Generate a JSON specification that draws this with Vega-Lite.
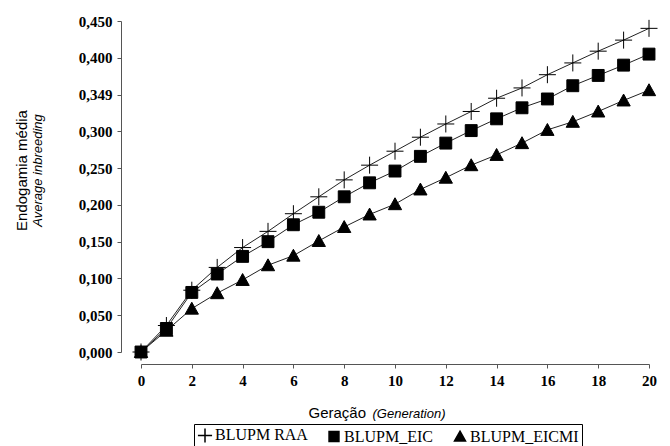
{
  "$schema": "https://vega.github.io/schema/vega-lite/v6.json",
  "width": 508,
  "height": 331,
  "autosize": {"type": "none"},
  "padding": {"left": 141, "top": 21, "right": 21, "bottom": 94},
  "background": "white",
  "title": {
    "text": "Endogamia média",
    "subtitle": "Average inbreeding",
    "orient": "left",
    "anchor": "middle",
    "dx": 16,
    "font": "Liberation Sans",
    "fontSize": 15,
    "fontWeight": "normal",
    "color": "black",
    "subtitleFont": "Liberation Sans",
    "subtitleFontSize": 13,
    "subtitleFontStyle": "italic",
    "subtitleColor": "black",
    "subtitlePadding": 2,
    "offset": 33
  },
  "data": {
    "values": [
      {"gen": 0, "series": "BLUPM RAA", "F": 0.0},
      {"gen": 1, "series": "BLUPM RAA", "F": 0.036},
      {"gen": 2, "series": "BLUPM RAA", "F": 0.084},
      {"gen": 3, "series": "BLUPM RAA", "F": 0.115},
      {"gen": 4, "series": "BLUPM RAA", "F": 0.142},
      {"gen": 5, "series": "BLUPM RAA", "F": 0.164},
      {"gen": 6, "series": "BLUPM RAA", "F": 0.188},
      {"gen": 7, "series": "BLUPM RAA", "F": 0.211},
      {"gen": 8, "series": "BLUPM RAA", "F": 0.234},
      {"gen": 9, "series": "BLUPM RAA", "F": 0.254},
      {"gen": 10, "series": "BLUPM RAA", "F": 0.273},
      {"gen": 11, "series": "BLUPM RAA", "F": 0.292},
      {"gen": 12, "series": "BLUPM RAA", "F": 0.310},
      {"gen": 13, "series": "BLUPM RAA", "F": 0.327},
      {"gen": 14, "series": "BLUPM RAA", "F": 0.345},
      {"gen": 15, "series": "BLUPM RAA", "F": 0.359},
      {"gen": 16, "series": "BLUPM RAA", "F": 0.377},
      {"gen": 17, "series": "BLUPM RAA", "F": 0.393},
      {"gen": 18, "series": "BLUPM RAA", "F": 0.409},
      {"gen": 19, "series": "BLUPM RAA", "F": 0.424},
      {"gen": 20, "series": "BLUPM RAA", "F": 0.440},
      {"gen": 0, "series": "BLUPM_EIC", "F": 0.0},
      {"gen": 1, "series": "BLUPM_EIC", "F": 0.032},
      {"gen": 2, "series": "BLUPM_EIC", "F": 0.081},
      {"gen": 3, "series": "BLUPM_EIC", "F": 0.106},
      {"gen": 4, "series": "BLUPM_EIC", "F": 0.130},
      {"gen": 5, "series": "BLUPM_EIC", "F": 0.150},
      {"gen": 6, "series": "BLUPM_EIC", "F": 0.173},
      {"gen": 7, "series": "BLUPM_EIC", "F": 0.190},
      {"gen": 8, "series": "BLUPM_EIC", "F": 0.211},
      {"gen": 9, "series": "BLUPM_EIC", "F": 0.230},
      {"gen": 10, "series": "BLUPM_EIC", "F": 0.246},
      {"gen": 11, "series": "BLUPM_EIC", "F": 0.266},
      {"gen": 12, "series": "BLUPM_EIC", "F": 0.284},
      {"gen": 13, "series": "BLUPM_EIC", "F": 0.301},
      {"gen": 14, "series": "BLUPM_EIC", "F": 0.317},
      {"gen": 15, "series": "BLUPM_EIC", "F": 0.332},
      {"gen": 16, "series": "BLUPM_EIC", "F": 0.344},
      {"gen": 17, "series": "BLUPM_EIC", "F": 0.362},
      {"gen": 18, "series": "BLUPM_EIC", "F": 0.376},
      {"gen": 19, "series": "BLUPM_EIC", "F": 0.390},
      {"gen": 20, "series": "BLUPM_EIC", "F": 0.405},
      {"gen": 0, "series": "BLUPM_EICMI", "F": 0.0},
      {"gen": 1, "series": "BLUPM_EICMI", "F": 0.029},
      {"gen": 2, "series": "BLUPM_EICMI", "F": 0.059},
      {"gen": 3, "series": "BLUPM_EICMI", "F": 0.080},
      {"gen": 4, "series": "BLUPM_EICMI", "F": 0.098},
      {"gen": 5, "series": "BLUPM_EICMI", "F": 0.118},
      {"gen": 6, "series": "BLUPM_EICMI", "F": 0.131},
      {"gen": 7, "series": "BLUPM_EICMI", "F": 0.151},
      {"gen": 8, "series": "BLUPM_EICMI", "F": 0.170},
      {"gen": 9, "series": "BLUPM_EICMI", "F": 0.187},
      {"gen": 10, "series": "BLUPM_EICMI", "F": 0.201},
      {"gen": 11, "series": "BLUPM_EICMI", "F": 0.221},
      {"gen": 12, "series": "BLUPM_EICMI", "F": 0.237},
      {"gen": 13, "series": "BLUPM_EICMI", "F": 0.254},
      {"gen": 14, "series": "BLUPM_EICMI", "F": 0.268},
      {"gen": 15, "series": "BLUPM_EICMI", "F": 0.284},
      {"gen": 16, "series": "BLUPM_EICMI", "F": 0.302},
      {"gen": 17, "series": "BLUPM_EICMI", "F": 0.313},
      {"gen": 18, "series": "BLUPM_EICMI", "F": 0.327},
      {"gen": 19, "series": "BLUPM_EICMI", "F": 0.342},
      {"gen": 20, "series": "BLUPM_EICMI", "F": 0.356}
    ]
  },
  "encoding": {
    "y": {
      "field": "F",
      "type": "quantitative",
      "scale": {"domain": [0, 0.45], "nice": false, "zero": false},
      "axis": {
        "title": null,
        "values": [0, 0.05, 0.1, 0.15, 0.2, 0.25, 0.3, 0.35, 0.4, 0.45],
        "labelExpr": "datum.value == 0.35 ? '0,349' : replace(format(datum.value, '.3f'), '.', ',')",
        "labelFont": "Liberation Serif",
        "labelFontWeight": "bold",
        "labelFontSize": 15,
        "labelColor": "black",
        "labelFlush": false,
        "labelPadding": 5,
        "tickSize": 4,
        "tickColor": "#555555",
        "domainColor": "#555555",
        "offset": 20,
        "grid": false
      }
    }
  },
  "layer": [
    {
      "mark": {"type": "line", "color": "#222222", "strokeWidth": 1},
      "encoding": {
        "x": {
          "field": "gen",
          "type": "quantitative",
          "scale": {"domain": [0, 20], "nice": false, "zero": false},
          "axis": {
            "orient": "bottom",
            "title": "Geração",
            "titleX": 167,
            "titleY": 53,
            "titleAlign": "left",
            "titleBaseline": "alphabetic",
            "titleFont": "Liberation Sans",
            "titleFontSize": 15,
            "titleFontWeight": "normal",
            "titleColor": "black",
            "values": [0, 2, 4, 6, 8, 10, 12, 14, 16, 18, 20],
            "labelFont": "Liberation Serif",
            "labelFontWeight": "bold",
            "labelFontSize": 15,
            "labelColor": "black",
            "labelFlush": false,
            "labelPadding": 5,
            "tickSize": 4,
            "tickColor": "#555555",
            "domainColor": "#555555",
            "offset": 12,
            "grid": false
          }
        },
        "detail": {"field": "series"}
      }
    },
    {
      "mark": {"type": "point", "filled": true, "size": 289, "stroke": "black", "strokeWidth": 1, "opacity": 1},
      "encoding": {
        "x": {
          "field": "gen",
          "type": "quantitative",
          "scale": {"domain": [0, 20], "nice": false, "zero": false},
          "axis": {
            "orient": "bottom",
            "title": "(Generation)",
            "titleX": 231,
            "titleY": 53,
            "titleAlign": "left",
            "titleBaseline": "alphabetic",
            "titleFont": "Liberation Sans",
            "titleFontSize": 13,
            "titleFontStyle": "italic",
            "titleFontWeight": "normal",
            "titleColor": "black",
            "labels": false,
            "ticks": false,
            "domain": false,
            "grid": false,
            "offset": 12
          }
        },
        "shape": {
          "field": "series",
          "type": "nominal",
          "scale": {
            "domain": ["BLUPM RAA", "BLUPM_EIC", "BLUPM_EICMI"],
            "range": ["M-1,0H1M0,-1V1", "M-0.7,-0.7H0.7V0.7H-0.7Z", "M0,-0.75L0.78,0.65H-0.78Z"]
          },
          "legend": {
            "title": null,
            "orient": "none",
            "legendX": 53,
            "legendY": 403,
            "direction": "horizontal",
            "labelFont": "Liberation Serif",
            "labelFontSize": 16,
            "labelColor": "black",
            "strokeColor": "black",
            "fillColor": "white",
            "padding": 3,
            "columnPadding": 18,
            "symbolSize": 200,
            "labelOffset": 2,
            "encode": {"symbols": {"update": {"stroke": {"value": "black"}, "strokeWidth": {"value": 1}}}}
          }
        },
        "fill": {
          "field": "series",
          "type": "nominal",
          "scale": {
            "domain": ["BLUPM RAA", "BLUPM_EIC", "BLUPM_EICMI"],
            "range": ["transparent", "black", "black"]
          },
          "legend": {
            "title": null,
            "orient": "none",
            "legendX": 53,
            "legendY": 403,
            "direction": "horizontal",
            "labelFont": "Liberation Serif",
            "labelFontSize": 16,
            "labelColor": "black",
            "strokeColor": "black",
            "fillColor": "white",
            "padding": 3,
            "columnPadding": 18,
            "symbolSize": 200,
            "labelOffset": 2,
            "encode": {"symbols": {"update": {"stroke": {"value": "black"}, "strokeWidth": {"value": 1}}}}
          }
        }
      }
    }
  ],
  "resolve": {"scale": {"x": "independent"}},
  "config": {"view": {"stroke": null}}
}
